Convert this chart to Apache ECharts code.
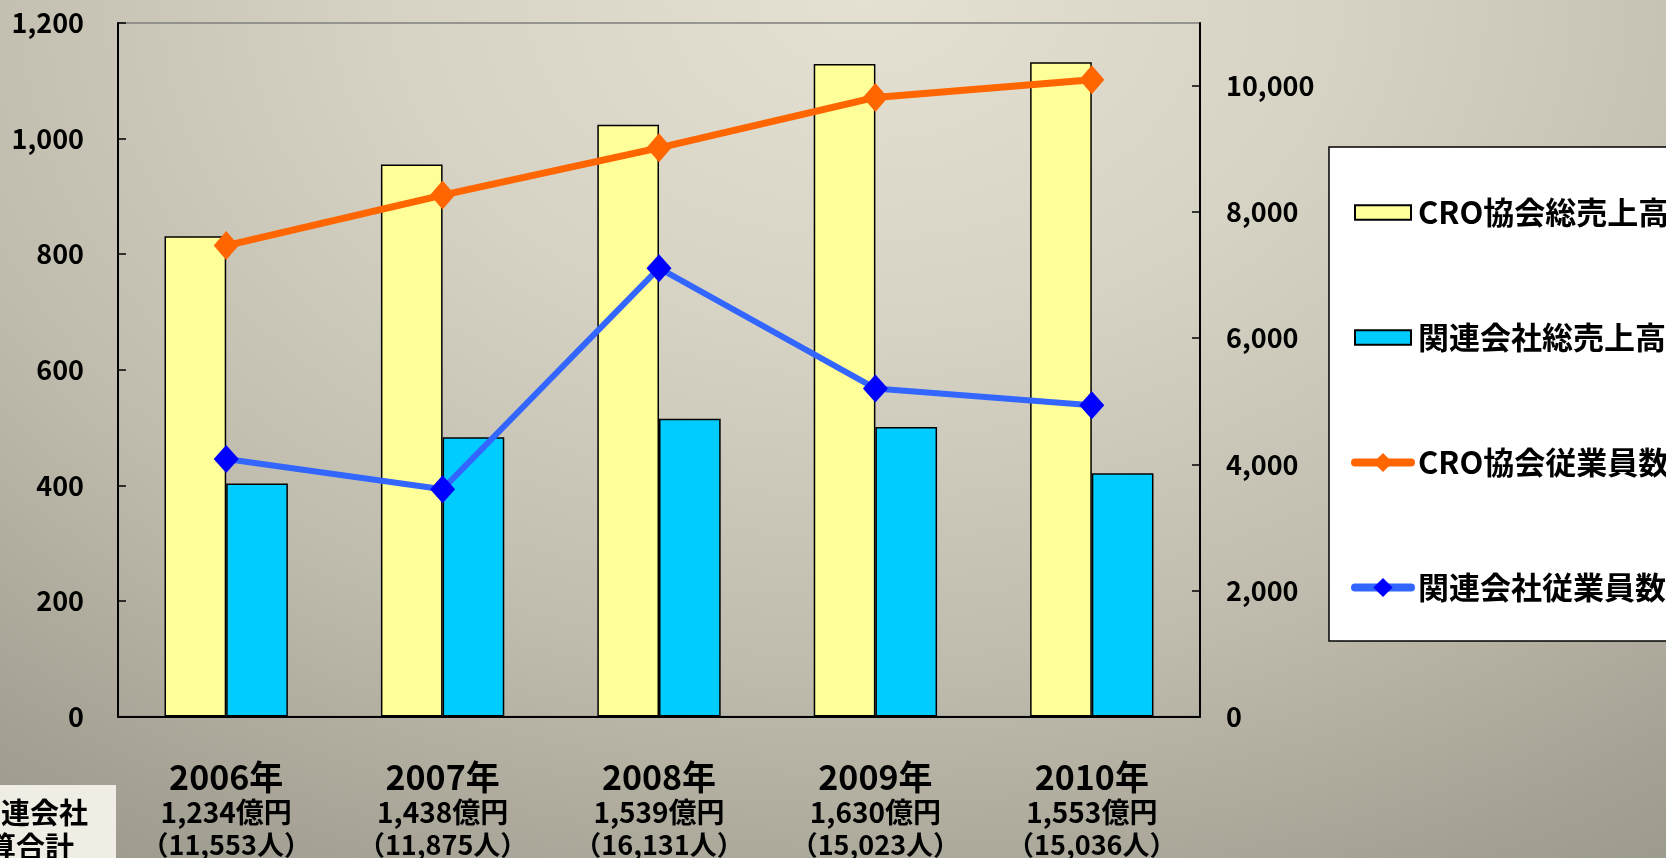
<!DOCTYPE html>
<html>
<head>
<meta charset="utf-8">
<script src="https://cdn.jsdelivr.net/npm/echarts@6/dist/echarts.min.js"></script>
<style>
html,body{margin:0;padding:0;width:1666px;height:858px;overflow:hidden;}
body{background:radial-gradient(ellipse 95% 130% at 52% 0%, #e4e1d3 0%, #d6d3c4 30%, #bfbcad 60%, #a4a194 85%, #959287 100%);}
#chart{width:1666px;height:858px;}
</style>
</head>
<body>
<div id="chart"></div>
<script>
const years = ['2006年', '2007年', '2008年', '2009年', '2010年'];
const totalSalesLabels = ['1,234億円', '1,438億円', '1,539億円', '1,630億円', '1,553億円'];
const totalStaffLabels = ['（11,553人）', '（11,875人）', '（16,131人）', '（15,023人）', '（15,036人）'];
const croSales = [831, 955, 1024, 1129, 1132];
const affSales = [403, 483, 515, 501, 421];
const croStaff = [7470, 8270, 9020, 9820, 10100];
const affStaff = [4083, 3605, 7111, 5203, 4936];
const leftTicks = [0, 200, 400, 600, 800, 1000, 1200];
const rightTicks = [0, 2000, 4000, 6000, 8000, 10000];
const seriesNames = ['CRO協会総売上高', '関連会社総売上高', 'CRO協会従業員数', '関連会社従業員数'];

const FONT = "'Noto Sans CJK JP', 'Noto Sans', sans-serif";
function fmt(v) { return String(v).replace(/\B(?=(\d{3})+(?!\d))/g, ','); }

const chart = echarts.init(document.getElementById('chart'), null, { renderer: 'canvas' });
chart.setOption({
  backgroundColor: 'transparent',
  animation: false,
  grid: {
    left: 118, right: 466, top: 23, bottom: 141,
    show: true, borderColor: '#7f7f7f', borderWidth: 1.5, backgroundColor: 'transparent'
  },
  legend: {
    orient: 'vertical',
    left: 1329, top: 147,
    padding: [50, 60, 38, 22],
    itemGap: 94,
    itemWidth: 56, itemHeight: 24,
    backgroundColor: '#ffffff', borderColor: '#000000', borderWidth: 1.5,
    textStyle: { fontFamily: FONT, fontSize: 31, fontWeight: 'bold', color: '#000', padding: [0, 0, 0, 2] },
    data: [
      { name: seriesNames[0], icon: 'path://M0,0H47V12H0Z' },
      { name: seriesNames[1], icon: 'path://M0,0H47V12H0Z' },
      { name: seriesNames[2], lineStyle: { width: 8, cap: 'round', color: '#ff6600' } },
      { name: seriesNames[3], lineStyle: { width: 8, cap: 'round', color: '#3366ff' } }
    ]
  },
  xAxis: {
    type: 'category',
    data: years,
    axisLine: { lineStyle: { color: '#000', width: 2 } },
    axisTick: { inside: true, length: 10, lineStyle: { color: '#000', width: 1.5 } },
    axisLabel: {
      margin: 42,
      color: '#000',
      fontFamily: FONT,
      formatter: function (v, i) {
        return '{a|' + v + '}\n{b|' + totalSalesLabels[i] + '}\n{c|' + totalStaffLabels[i] + '}';
      },
      rich: {
        a: { fontFamily: FONT, fontSize: 34, fontWeight: 'bold', lineHeight: 38, color: '#000' },
        b: { fontFamily: FONT, fontSize: 28, fontWeight: 'bold', lineHeight: 32, color: '#000' },
        c: { fontFamily: FONT, fontSize: 27, fontWeight: 'bold', lineHeight: 32, color: '#000' }
      }
    }
  },
  yAxis: [
    {
      type: 'value', min: 0, max: 1200, interval: 200,
      axisLine: { show: true, lineStyle: { color: '#000', width: 2 } },
      axisTick: { show: true, inside: true, length: 8, lineStyle: { color: '#000', width: 1.5 }, customValues: leftTicks },
      axisLabel: { margin: 34, color: '#000', fontFamily: FONT, fontSize: 27, fontWeight: 'bold', formatter: fmt, customValues: leftTicks },
      splitLine: { show: false }
    },
    {
      type: 'value', min: 0, max: 11000, interval: 2000,
      axisLine: { show: true, lineStyle: { color: '#000', width: 2 } },
      axisTick: { show: true, inside: true, length: 8, lineStyle: { color: '#000', width: 1.5 }, customValues: rightTicks },
      axisLabel: { margin: 26, color: '#000', fontFamily: FONT, fontSize: 27, fontWeight: 'bold', formatter: fmt, customValues: rightTicks },
      splitLine: { show: false }
    }
  ],
  series: [
    {
      name: seriesNames[0], type: 'bar', yAxisIndex: 0, data: croSales,
      barGap: '0%', barCategoryGap: '43%',
      itemStyle: { color: '#ffff99', borderColor: '#000', borderWidth: 1.5 }
    },
    {
      name: seriesNames[1], type: 'bar', yAxisIndex: 0, data: affSales,
      barGap: '0%', barCategoryGap: '43%',
      itemStyle: { color: '#00ccff', borderColor: '#000', borderWidth: 1.5 }
    },
    {
      name: seriesNames[2], type: 'line', yAxisIndex: 1, data: croStaff,
      symbol: 'diamond', symbolSize: [25, 29],
      lineStyle: { color: '#ff6600', width: 7, cap: 'round' },
      itemStyle: { color: '#ff6600' }
    },
    {
      name: seriesNames[3], type: 'line', yAxisIndex: 1, data: affStaff,
      symbol: 'diamond', symbolSize: [25, 28],
      lineStyle: { color: '#3366ff', width: 6, cap: 'round' },
      itemStyle: { color: '#0000ff' }
    }
  ],
  graphic: [
    { type: 'rect', shape: { x: 0, y: 785, width: 116, height: 80 }, style: { fill: '#efede4' }, z: 10 },
    { type: 'text', x: 88, y: 813, style: { text: '関連会社', font: 'bold 29px ' + FONT, fill: '#000', align: 'right', verticalAlign: 'middle' }, z: 11 },
    { type: 'text', x: 74, y: 847, style: { text: '合算合計', font: 'bold 29px ' + FONT, fill: '#000', align: 'right', verticalAlign: 'middle' }, z: 11 }
  ]
});
</script>
</body>
</html>
